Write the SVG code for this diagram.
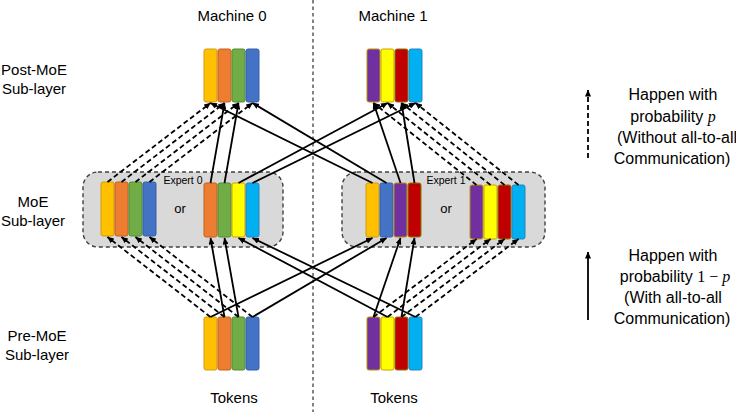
<svg xmlns="http://www.w3.org/2000/svg" width="736" height="412" viewBox="0 0 736 412">
<defs>
<marker id="ah" viewBox="0 0 8 7" refX="7.5" refY="3.5" markerWidth="7" markerHeight="6" markerUnits="userSpaceOnUse" orient="auto">
<path d="M0,0 L8,3.5 L0,7 z" fill="#000"/>
</marker>
<style>
text{font-family:"Liberation Sans",Arial,sans-serif;fill:#000}
.lbl{font-size:15px;text-anchor:middle}
.leg{font-size:16px;text-anchor:middle}
.sm{font-size:10.5px;text-anchor:middle}
.or{font-size:13px;text-anchor:middle}
.math{font-family:"Liberation Serif","DejaVu Serif",serif}
.it{font-style:italic}
.box{fill:#d9d9d9;stroke:#404040;stroke-width:1.4;stroke-dasharray:4 3}
.tk{stroke-width:1}
.y{fill:#ffc000;stroke:#d09a10}
.o{fill:#ed7d31;stroke:#c5601c}
.g{fill:#70ad47;stroke:#548a33}
.b{fill:#4472c4;stroke:#3460aa}
.p{fill:#7030a0;stroke:#bf9000}
.yy{fill:#ffff00;stroke:#d0a000}
.r{fill:#c00000;stroke:#8a7a00}
.c{fill:#00b0f0;stroke:#2a80c0}
.s{stroke:#000;stroke-width:1.8;fill:none;marker-end:url(#ah)}
.d{stroke:#000;stroke-width:1.8;fill:none;stroke-dasharray:5 3;marker-end:url(#ah)}
.sep{stroke:#595959;stroke-width:1.5;stroke-dasharray:3.5 3}
</style>
</defs>

<line class="sep" x1="313" y1="0" x2="313" y2="412"/>

<g id="labels">
<text class="lbl" x="232" y="21">Machine 0</text>
<text class="lbl" x="393" y="21">Machine 1</text>
<text class="lbl" x="34" y="75">Post-MoE</text>
<text class="lbl" x="34" y="94">Sub-layer</text>
<text class="lbl" x="33" y="207">MoE</text>
<text class="lbl" x="33" y="226">Sub-layer</text>
<text class="lbl" x="37" y="341">Pre-MoE</text>
<text class="lbl" x="37" y="360">Sub-layer</text>
<text class="lbl" x="234" y="403">Tokens</text>
<text class="lbl" x="394" y="403">Tokens</text>
</g>

<g id="legend">
<text class="leg" x="673" y="100">Happen with</text>
<text class="leg" x="673" y="121.5">probability <tspan class="math it">p</tspan></text>
<text class="leg" x="677" y="143">(Without all-to-all</text>
<text class="leg" x="672" y="164">Communication)</text>
<text class="leg" x="673" y="261">Happen with</text>
<text class="leg" x="675" y="282">probability <tspan class="math">1 − </tspan><tspan class="math it">p</tspan></text>
<text class="leg" x="673" y="303">(With all-to-all</text>
<text class="leg" x="672" y="324">Communication)</text>
<line class="d" x1="588" y1="158" x2="588" y2="90"/>
<line class="s" x1="588" y1="320" x2="588" y2="252"/>
</g>

<g id="post0">
<rect class="tk y" x="204" y="49" width="13" height="53" rx="2"/>
<rect class="tk o" x="218" y="49" width="13" height="53" rx="2"/>
<rect class="tk g" x="232" y="49" width="13" height="53" rx="2"/>
<rect class="tk b" x="246" y="49" width="13" height="53" rx="2"/>
</g>
<g id="post1">
<rect class="tk p" x="367" y="49" width="13" height="53" rx="2"/>
<rect class="tk yy" x="381" y="49" width="13" height="53" rx="2"/>
<rect class="tk r" x="395" y="49" width="13" height="53" rx="2"/>
<rect class="tk c" x="409" y="49" width="13" height="53" rx="2"/>
</g>

<g id="expert0">
<rect class="box" x="83" y="172" width="200" height="75" rx="15"/>
<text class="sm" x="183" y="183.5">Expert 0</text>
<text class="or" x="180" y="213">or</text>
<rect class="tk y" x="101" y="182" width="13" height="54" rx="2"/>
<rect class="tk o" x="115" y="182" width="13" height="54" rx="2"/>
<rect class="tk g" x="129" y="182" width="13" height="54" rx="2"/>
<rect class="tk b" x="143" y="182" width="13" height="54" rx="2"/>
<rect class="tk o" x="204" y="183" width="13" height="54" rx="2"/>
<rect class="tk g" x="218" y="183" width="13" height="54" rx="2"/>
<rect class="tk yy" x="232" y="183" width="13" height="54" rx="2"/>
<rect class="tk c" x="246" y="183" width="13" height="54" rx="2"/>
</g>

<g id="expert1">
<rect class="box" x="342" y="172" width="203" height="75" rx="15"/>
<text class="sm" x="446" y="183.5">Expert 1</text>
<text class="or" x="446" y="213">or</text>
<rect class="tk y" x="366" y="183" width="13" height="54" rx="2"/>
<rect class="tk b" x="380" y="183" width="13" height="54" rx="2"/>
<rect class="tk p" x="394" y="183" width="13" height="54" rx="2"/>
<rect class="tk r" x="408" y="183" width="13" height="54" rx="2"/>
<rect class="tk p" x="470" y="185" width="13" height="54" rx="2"/>
<rect class="tk yy" x="484" y="185" width="13" height="54" rx="2"/>
<rect class="tk r" x="498" y="185" width="13" height="54" rx="2"/>
<rect class="tk c" x="512" y="185" width="13" height="54" rx="2"/>
</g>

<g id="pre0">
<rect class="tk y" x="204" y="317" width="13" height="53" rx="2"/>
<rect class="tk o" x="218" y="317" width="13" height="53" rx="2"/>
<rect class="tk g" x="232" y="317" width="13" height="53" rx="2"/>
<rect class="tk b" x="246" y="317" width="13" height="53" rx="2"/>
</g>
<g id="pre1">
<rect class="tk p" x="367" y="317" width="13" height="53" rx="2"/>
<rect class="tk yy" x="381" y="317" width="13" height="53" rx="2"/>
<rect class="tk r" x="395" y="317" width="13" height="53" rx="2"/>
<rect class="tk c" x="409" y="317" width="13" height="53" rx="2"/>
</g>

<g id="connectors">
<line class="d" x1="210.5" y1="317" x2="107.5" y2="237"/>
<line class="d" x1="224.5" y1="317" x2="121.5" y2="237"/>
<line class="d" x1="238.5" y1="317" x2="135.5" y2="237"/>
<line class="d" x1="252.5" y1="317" x2="149.5" y2="237"/>
<line class="d" x1="107.5" y1="182" x2="210.5" y2="103"/>
<line class="d" x1="121.5" y1="182" x2="224.5" y2="103"/>
<line class="d" x1="135.5" y1="182" x2="238.5" y2="103"/>
<line class="d" x1="149.5" y1="182" x2="252.5" y2="103"/>
<line class="d" x1="373.5" y1="317" x2="476.5" y2="239"/>
<line class="d" x1="387.5" y1="317" x2="490.5" y2="239"/>
<line class="d" x1="401.5" y1="317" x2="504.5" y2="239"/>
<line class="d" x1="415.5" y1="317" x2="518.5" y2="239"/>
<line class="d" x1="476.5" y1="185" x2="373.5" y2="103"/>
<line class="d" x1="490.5" y1="185" x2="387.5" y2="103"/>
<line class="d" x1="504.5" y1="185" x2="401.5" y2="103"/>
<line class="d" x1="518.5" y1="185" x2="415.5" y2="103"/>
<line class="s" x1="224.5" y1="317" x2="210.5" y2="238"/>
<line class="s" x1="238.5" y1="317" x2="224.5" y2="238"/>
<line class="s" x1="387.5" y1="317" x2="238.5" y2="238"/>
<line class="s" x1="415.5" y1="317" x2="252.5" y2="238"/>
<line class="s" x1="210.5" y1="317" x2="372.5" y2="238"/>
<line class="s" x1="252.5" y1="317" x2="386.5" y2="238"/>
<line class="s" x1="373.5" y1="317" x2="400.5" y2="238"/>
<line class="s" x1="401.5" y1="317" x2="414.5" y2="238"/>
<line class="s" x1="210.5" y1="183" x2="224.5" y2="103"/>
<line class="s" x1="224.5" y1="183" x2="238.5" y2="103"/>
<line class="s" x1="238.5" y1="183" x2="387.5" y2="103"/>
<line class="s" x1="252.5" y1="183" x2="415.5" y2="103"/>
<line class="s" x1="372.5" y1="183" x2="210.5" y2="103"/>
<line class="s" x1="386.5" y1="183" x2="252.5" y2="103"/>
<line class="s" x1="400.5" y1="183" x2="373.5" y2="103"/>
<line class="s" x1="414.5" y1="183" x2="401.5" y2="103"/>
</g>
</svg>
